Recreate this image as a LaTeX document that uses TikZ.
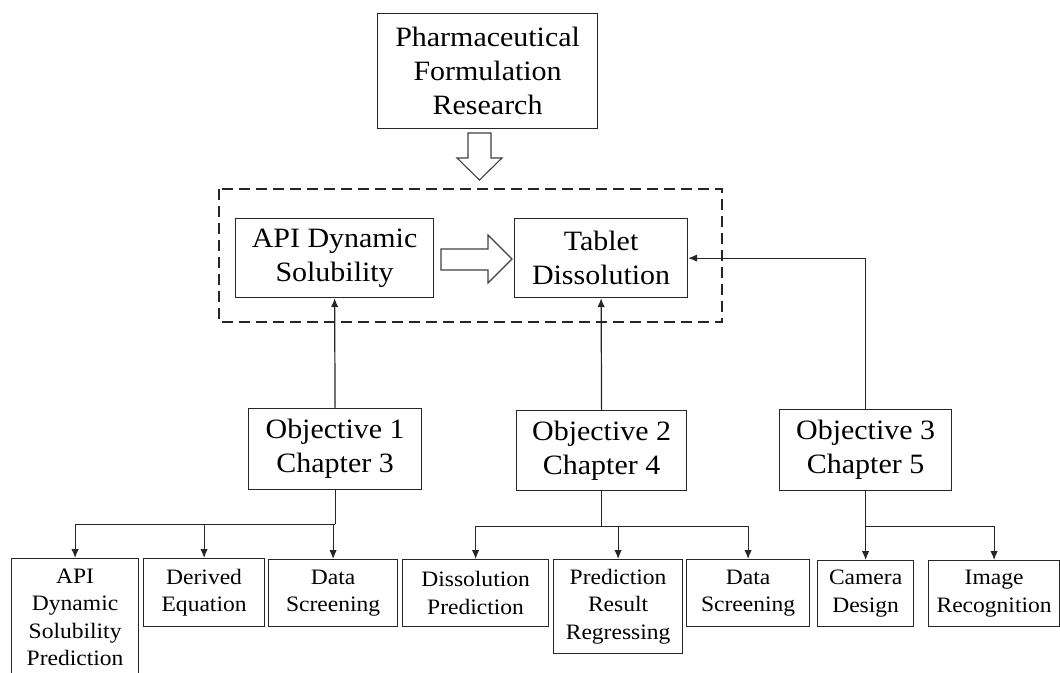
\documentclass[tikz,border=0pt]{standalone}
\usepackage{fontspec}
\setmainfont{Liberation Serif}[FakeStretch=1.07]
\usetikzlibrary{arrows.meta,calc}

\begin{document}
\begin{tikzpicture}[x=1pt,y=-1pt,
  ink/.style={draw=black!85, line width=1.2pt},
  box/.style={ink, rectangle, anchor=north west, inner sep=0pt, align=center,
              font=\fontsize{28}{34}\selectfont},
  leaf/.style={ink, rectangle, anchor=north west, inner sep=0pt, align=center,
              font=\fontsize{22}{27.5}\selectfont},
  conn/.style={draw=black!85, line width=1.2pt},
  tip/.style={conn, -{Latex[length=9pt,width=7.5pt]}},
  hollow/.style={draw=black!75, line width=1.1pt, fill=white, line join=miter},
  frame/.style={draw=black!85, line width=1.2pt, dash pattern=on 11pt off 6pt}
]
\useasboundingbox (0,0) rectangle (1060,672);

% top level
\node[box, minimum width=220pt, minimum height=115pt] (pharma) at (377,13)
  {Pharmaceutical\\Formulation\\Research};

% dashed frame around the two study targets
\draw[frame] (219,189) rectangle (722,322);

\node[box, minimum width=198pt, minimum height=79pt] (api) at (235,218)
  {API Dynamic\\Solubility};
\node[box, minimum width=173pt, minimum height=79pt] (tablet) at (514,218)
  {Tablet\\Dissolution};

% hollow block arrows
\draw[hollow] (468,133) -- (491,133) -- (491,158) -- (502,158) -- (479.5,180)
  -- (457,158) -- (468,158) -- cycle;
\draw[hollow] (441,249) -- (488,249) -- (488,235) -- (512,259) -- (488,283)
  -- (488,270) -- (441,270) -- cycle;

% objectives
\node[box, minimum width=173pt, minimum height=81pt] (obj1) at (248,408)
  {Objective 1\\Chapter 3};
\node[box, minimum width=170pt, minimum height=80pt] (obj2) at (516,410)
  {Objective 2\\Chapter 4};
\node[box, minimum width=172pt, minimum height=81pt] (obj3) at (779,409)
  {Objective 3\\Chapter 5};

% work packages
\node[leaf, minimum width=127pt, minimum height=117pt] (l1) at (11,558)
  {API\\Dynamic\\Solubility\\Prediction};
\node[leaf, minimum width=121pt, minimum height=68pt] (l2) at (143,558)
  {Derived\\Equation};
\node[leaf, minimum width=129pt, minimum height=67pt] (l3) at (268,559)
  {Data\\Screening};
\node[leaf, minimum width=146pt, minimum height=67pt] (l4) at (402,559)
  {Dissolution\\Prediction};
\node[leaf, minimum width=129pt, minimum height=94pt] (l5) at (553,559)
  {Prediction\\Result\\Regressing};
\node[leaf, minimum width=123pt, minimum height=67pt] (l6) at (686,559)
  {Data\\Screening};
\node[leaf, minimum width=96pt, minimum height=66pt] (l7) at (817,560)
  {Camera\\Design};
\node[leaf, minimum width=131pt, minimum height=66pt] (l8) at (928,560)
  {Image\\Recognition};

% objectives feed the study targets
\draw[tip] (obj1.north) -- (api.south);
\draw[tip] (obj2.north) -- (tablet.south);
\draw[tip] (obj3.north) |- (tablet.east);

% objective trees
\path (obj1.south) ++(0,34) coordinate (j1);
\path (obj2.south) ++(0,35) coordinate (j2);
\path (obj3.south) ++(0,35) coordinate (j3);

\draw[conn] (obj1.south) -- (j1);
\draw[tip] (j1) -| (l1.north);
\draw[tip] (j1) -| (l2.north);
\draw[tip] (j1) -| (l3.north);

\draw[conn] (obj2.south) -- (j2);
\draw[tip] (j2) -| (l4.north);
\draw[tip] (j2) -| (l5.north);
\draw[tip] (j2) -| (l6.north);

\draw[conn] (obj3.south) -- (j3);
\draw[tip] (j3) -| (l7.north);
\draw[tip] (j3) -| (l8.north);
\end{tikzpicture}
\end{document}
